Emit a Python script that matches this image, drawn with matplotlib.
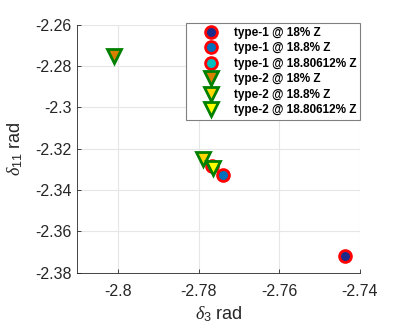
import matplotlib
matplotlib.use("Agg")
import matplotlib.pyplot as plt

plt.rcParams['font.family'] = ['Liberation Sans', 'DejaVu Sans']
plt.rcParams['mathtext.fontset'] = 'custom'
plt.rcParams['mathtext.it'] = 'Liberation Serif:italic'
plt.rcParams['mathtext.rm'] = 'Liberation Sans'

labels = ["type-1 @ 18% Z", "type-1 @ 18.8% Z", "type-1 @ 18.80612% Z",
          "type-2 @ 18% Z", "type-2 @ 18.8% Z", "type-2 @ 18.80612% Z"]
delta3 = [-2.7437, -2.7741, -2.7768, -2.8012, -2.7791, -2.7766]
delta11 = [-2.3719, -2.3327, -2.3283, -2.2752, -2.3251, -2.3292]
markers = ['o', 'o', 'o', 'v', 'v', 'v']
faces = ['#1c2a8a', '#0072BD', '#00BFBF', '#D98000', '#FFD700', '#FFFF00']
edges = ['#FF0000', '#FF0000', '#FF0000', '#008000', '#008000', '#008000']

xticks = [-2.8, -2.78, -2.76, -2.74]
yticks = [-2.38, -2.36, -2.34, -2.32, -2.3, -2.28, -2.26]

fig = plt.figure(figsize=(3.99, 3.32), dpi=100)
ax = fig.add_axes([77/399, 1 - 272.7/332, (360 - 77)/399, (272.7 - 24.7)/332])

for x, y, m, fc, ec, lab in zip(delta3, delta11, markers, faces, edges, labels):
    ms = 8.5 if m == 'o' else 9.5
    ax.plot([x], [y], linestyle='none', marker=m, markersize=ms,
            markerfacecolor=fc, markeredgecolor=ec, markeredgewidth=2.0, label=lab)

ax.set_xlim(-2.8103, -2.74)
ax.set_ylim(-2.38, -2.26)
ax.set_xticks(xticks)
ax.set_xticklabels([f"{t:g}" for t in xticks])
ax.set_yticks(yticks)
ax.set_yticklabels([f"{t:g}" for t in yticks])
ax.tick_params(direction='in', length=3, labelsize=11.5, colors='#262626', width=0.6)
ax.tick_params(axis='x', pad=8)
ax.tick_params(axis='y', pad=4)
ax.grid(True, color='#e6e6e6', linewidth=0.8)
ax.set_axisbelow(True)
for s in ['top', 'right']:
    ax.spines[s].set_visible(False)
for s in ['left', 'bottom']:
    ax.spines[s].set_color('#262626')
    ax.spines[s].set_linewidth(0.6)

ax.set_xlabel(r'$\delta_3$ rad', fontsize=13, color='#262626', labelpad=4)
ax.set_ylabel(r'$\delta_{11}$ rad', fontsize=13, color='#262626', labelpad=7)

leg = ax.legend(loc='upper right', bbox_to_anchor=(1.0, 1.006), prop={'weight': 'bold', 'size': 8.5},
                frameon=True, fancybox=False, edgecolor='#808080', framealpha=1,
                handletextpad=0.15, labelspacing=0.3, borderpad=0.3, handlelength=3.6,
                borderaxespad=0)
leg.get_frame().set_linewidth(0.8)

fig.savefig('out.png', dpi=100)
